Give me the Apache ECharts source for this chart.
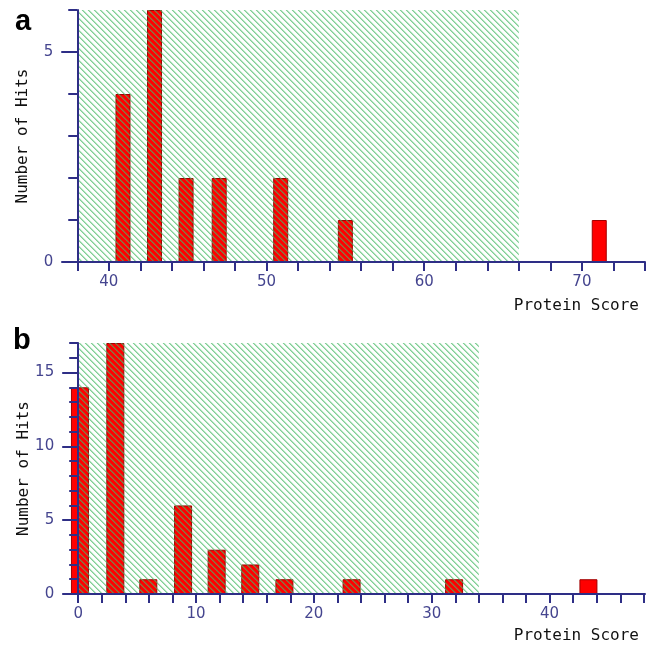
<!DOCTYPE html>
<html>
<head>
<meta charset="utf-8">
<script src="https://cdn.jsdelivr.net/npm/echarts@6/dist/echarts.min.js"></script>
<style>
  html, body { margin: 0; padding: 0; background: #fff; }
  #chart { width: 651px; height: 649px; }
</style>
</head>
<body>
<div id="chart"></div>
<script>
// panel a
const scoreA = [40.9, 42.9, 44.9, 47.0, 50.9, 55.0, 71.1];
const hitsA = [4, 6, 2, 2, 2, 1, 1];
const shadeA = [38, 66, 6]; // hatched region: from, to, top
const xLabelsA = [40, 50, 60, 70];
const yLabelsA = [0, 5];

// panel b
const scoreB = [0.15, 3.15, 5.95, 8.9, 11.75, 14.6, 17.5, 23.2, 31.9, 43.3];
const hitsB = [14, 17, 1, 6, 3, 2, 1, 1, 1, 1];
const shadeB = [0, 34, 17];
const xLabelsB = [0, 10, 20, 30, 40];
const yLabelsB = [0, 5, 10, 15];

const range = (a, b, step) => {
  const out = [];
  for (let v = a; v <= b; v += step) out.push(v);
  return out;
};

const AXIS = "#2e2e86";
const LABEL = "#45458f";
const gridLeft = 67, gridRight = 6;
const plotW = 651 - gridLeft - gridRight;

const panels = [
  { score: scoreA, hits: hitsA, shade: shadeA, xLabels: xLabelsA, yLabels: yLabelsA,
    xMin: 37.35, xMax: 74, yMax: 6, yAt: 38, xTicks: range(38, 74, 2), barWidth: 15,
    top: 10, height: 252 },
  { score: scoreB, hits: hitsB, shade: shadeB, xLabels: xLabelsB, yLabels: yLabelsB,
    xMin: -0.95, xMax: 48.1, yMax: 17, yAt: 0, xTicks: range(0, 48, 2), barWidth: 18,
    top: 343, height: 251 },
];

// diagonal green hatch, 6px period
function makeHatch() {
  const n = 6;
  const c = document.createElement("canvas");
  c.width = n; c.height = n;
  const ctx = c.getContext("2d");
  const img = ctx.createImageData(n, n);
  const alpha = [175, 110, 15, 0, 0, 15];
  for (let y = 0; y < n; y++) {
    for (let x = 0; x < n; x++) {
      const d = (((x - y) % n) + n) % n;
      const i = (y * n + x) * 4;
      img.data[i] = 70; img.data[i + 1] = 185; img.data[i + 2] = 100;
      img.data[i + 3] = alpha[d];
    }
  }
  ctx.putImageData(img, 0, 0);
  return c;
}
const hatch = { image: makeHatch(), repeat: "repeat" };

const renderShade = (params, api) => {
  const p0 = api.coord([api.value(0), api.value(2)]);
  const p1 = api.coord([api.value(1), 0]);
  return {
    type: "rect",
    shape: { x: p0[0], y: p0[1], width: p1[0] - p0[0], height: p1[1] - p0[1] },
    style: { fill: hatch },
  };
};

const grid = [], xAxis = [], yAxis = [], series = [];
panels.forEach((p, k) => {
  const offset = -((p.yAt - p.xMin) / (p.xMax - p.xMin)) * plotW;
  grid.push({ left: gridLeft, right: gridRight, top: p.top, height: p.height });
  xAxis.push({
    type: "value", gridIndex: k, min: p.xMin, max: p.xMax, z: 10,
    axisLine: { onZero: false, lineStyle: { color: AXIS, width: 2 } },
    axisTick: { customValues: p.xTicks, length: 9, lineStyle: { color: AXIS, width: 2 } },
    axisLabel: { customValues: p.xLabels, margin: 13, color: LABEL,
      fontFamily: "DejaVu Sans", fontSize: 15 },
    splitLine: { show: false },
    name: "Protein Score", nameLocation: "end", nameGap: -6, nameMoveOverlap: false,
    nameTextStyle: { color: "#111", fontFamily: "DejaVu Sans Mono", fontSize: 16,
      align: "right", verticalAlign: "top", padding: [k === 0 ? 36 : 34, 0, 0, 0] },
  });
  yAxis.push({
    type: "value", gridIndex: k, position: "left", min: 0, max: p.yMax, offset, z: 10,
    axisLine: { show: true, onZero: false, lineStyle: { color: AXIS, width: 2 } },
    axisTick: { show: true, customValues: p.yLabels, length: 16, lineStyle: { color: AXIS, width: 2 } },
    axisLabel: { customValues: p.yLabels, margin: 24, color: LABEL,
      fontFamily: "DejaVu Sans", fontSize: 15 },
    splitLine: { show: false },
    name: "Number of Hits", nameLocation: "middle", nameRotate: 90, nameGap: 46,
    nameMoveOverlap: false,
    nameTextStyle: { color: "#111", fontFamily: "DejaVu Sans Mono", fontSize: 16 },
  });
  // unit ticks
  yAxis.push({
    type: "value", gridIndex: k, position: "left", min: 0, max: p.yMax, offset, z: 10,
    axisLine: { show: false },
    axisTick: { show: true, customValues: range(0, p.yMax, 1), length: 9,
      lineStyle: { color: AXIS, width: 2 } },
    axisLabel: { show: false },
    splitLine: { show: false },
  });
  series.push({
    type: "bar", xAxisIndex: k, yAxisIndex: k * 2, z: 2,
    data: p.score.map((s, i) => [s, p.hits[i]]),
    barWidth: p.barWidth,
    itemStyle: { color: "#ff0000", borderColor: "#a00000", borderWidth: 1 },
    silent: true,
  });
  series.push({
    type: "custom", xAxisIndex: k, yAxisIndex: k * 2, z: 3,
    renderItem: renderShade,
    encode: { x: [0, 1], y: 2 },
    data: [p.shade],
    silent: true,
  });
});

const chart = echarts.init(document.getElementById("chart"));
chart.setOption({
  animation: false,
  backgroundColor: "#fff",
  grid, xAxis, yAxis, series,
  graphic: [
    { type: "text", left: 15, top: 7,
      style: { text: "a", font: "bold 29px 'Liberation Sans', Arial", fill: "#000" } },
    { type: "text", left: 13, top: 326,
      style: { text: "b", font: "bold 29px 'Liberation Sans', Arial", fill: "#000" } },
  ],
});
window.addEventListener("resize", () => chart.resize());
</script>
</body>
</html>
